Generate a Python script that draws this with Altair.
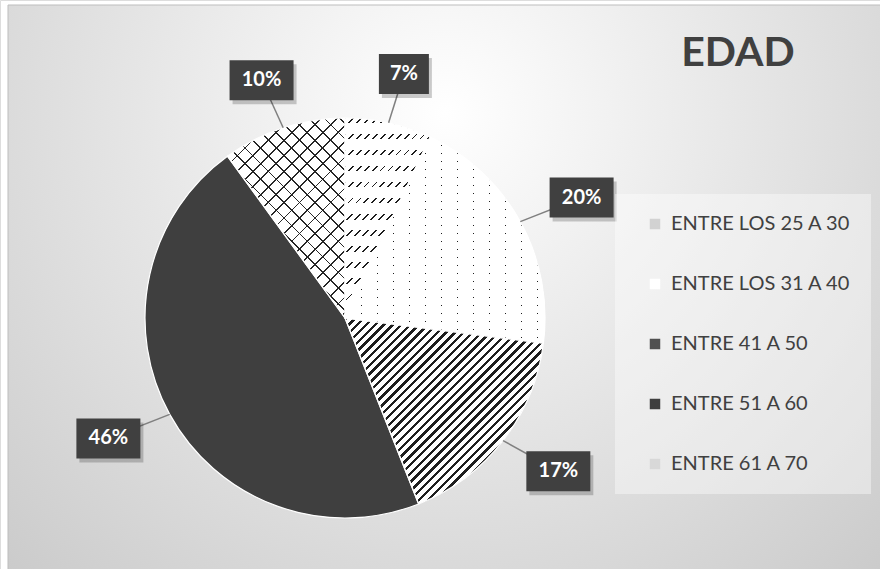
import math
import altair as alt
import pandas as pd

# ---- data ----
categories = ["ENTRE LOS 25 A 30", "ENTRE LOS 31 A 40", "ENTRE 41 A 50", "ENTRE 51 A 60", "ENTRE 61 A 70"]
values = [7, 20, 17, 46, 10]
labels = ["7%", "20%", "17%", "46%", "10%"]
swatch = ["#d2d2d2", "#ffffff", "#505050", "#3f3f3f", "#d8d8d8"]

df = pd.DataFrame({"cat": categories, "val": values, "label": labels, "idx": list(range(len(values)))})

W, H = 880, 569
CX, CY, R = 345, 318, 200
LRX, LRY = 270, 250
FONT = "Lato"
TOTAL = sum(values)
theta_scale = alt.Scale(domain=[0, TOTAL])


# ---- pattern helpers (style only) ----
def slice_bbox(i):
    a0 = sum(values[:i]) / TOTAL * 360
    a1 = sum(values[:i + 1]) / TOTAL * 360
    angs = [a0, a1] + [a for a in (0, 90, 180, 270, 360) if a0 < a < a1]
    xs, ys = [CX], [CY]
    for a in angs:
        r = math.radians(a)
        xs.append(CX + R * math.sin(r))
        ys.append(CY - R * math.cos(r))
    return max(xs) - min(xs), max(ys) - min(ys)


def stripes(kind, w, h, period, width, on, off):
    if kind == "h":
        p = dict(x1=0, y1=0, x2=0, y2=1)
        L = h
    elif kind == "v":
        p = dict(x1=0, y1=0, x2=1, y2=0)
        L = w
    else:
        k = (w + h) / (w * w + h * h)
        L = (w + h) / math.sqrt(2)
        if kind == "fwd":  # "/" lines
            p = dict(x1=0, y1=0, x2=k * w, y2=k * h)
        else:  # "\" lines
            p = dict(x1=0, y1=1, x2=k * w, y2=1 - k * h)
    pt, dt = period / L, width / L
    stops = []
    t = 0.0
    while t < 1:
        a = min(t + dt, 1)
        b = min(t + pt, 1)
        stops += [{"offset": t, "color": on}, {"offset": a, "color": on},
                  {"offset": a, "color": off}, {"offset": b, "color": off}]
        t += pt
    return {"gradient": "linear", "stops": stops, **p}


CLEAR = "rgba(255,255,255,0)"
patterns = {
    0: [("fwd", 5.6, 1.3, "#1e1e1e", "#ffffff"), ("h", 16, 5.5, CLEAR, "#ffffff")],
    1: [("v", 16, 1.2, "#1e1e1e", "#ffffff"), ("h", 8, 1.2, CLEAR, "#ffffff")],
    2: [("fwd", 6.2, 2.4, "#1e1e1e", "#ffffff")],
    4: [("back", 11, 1.3, "#262626", "#ffffff"), ("fwd", 11, 1.3, "#262626", CLEAR)],
}

bg = alt.Chart(alt.Data(values=[{}])).mark_rect(
    fill={"gradient": "radial",
          "stops": [{"offset": 0, "color": "#ffffff"}, {"offset": 1, "color": "#c2c2c2"}],
          "x1": 0.5, "y1": 0.3, "r1": 0, "x2": 0.5, "y2": 0.3, "r2": 0.85},
    stroke="#bdbdbd", strokeWidth=1,
).encode(x=alt.value(8), x2=alt.value(W + 2), y=alt.value(5), y2=alt.value(H + 2))

color = alt.Color(
    "cat:N",
    scale=alt.Scale(domain=categories, range=swatch),
    sort=categories,
    legend=alt.Legend(
        title=None, orient="none", legendX=615, legendY=194, padding=20, symbolOffset=10,
        symbolType="square", symbolSize=110, symbolStrokeWidth=0,
        symbolOpacity=1, labelFont=FONT, labelFontSize=20, labelColor="#404040",
        labelOffset=6, rowPadding=40, fillColor="rgba(255,255,255,0.4)", labelLimit=400,
    ),
)

base = alt.Chart(df)

stacked = base.transform_window(
    cum="sum(val)", sort=[alt.SortField("idx")], frame=[None, 0]
).transform_calculate(t0="datum.cum - datum.val")

pie = base.mark_arc(outerRadius=R).encode(
    theta=alt.Theta("val:Q", stack=True, scale=theta_scale),
    color=color,
    order=alt.Order("idx:Q"),
    x=alt.value(CX),
    y=alt.value(CY),
)

overlays = []
for i, pats in patterns.items():
    w, h = slice_bbox(i)
    for (kind, period, width, on, off) in pats:
        overlays.append(
            stacked.transform_filter(alt.datum.idx == i)
            .mark_arc(outerRadius=R, fill=stripes(kind, w, h, period, width, on, off))
            .encode(
                theta=alt.Theta("t0:Q", scale=theta_scale),
                theta2="cum:Q",
                x=alt.value(CX),
                y=alt.value(CY),
            )
        )

edges = base.mark_arc(outerRadius=R, fillOpacity=0, stroke="white", strokeWidth=1.2).encode(
    theta=alt.Theta("val:Q", stack=True, scale=theta_scale),
    order=alt.Order("idx:Q"),
    x=alt.value(CX),
    y=alt.value(CY),
)

pos = (
    stacked.transform_calculate(mid=f"(datum.cum - datum.val/2) / {TOTAL} * 2 * PI")
    .transform_calculate(lx=f"{CX} + {LRX} * sin(datum.mid)")
    .transform_calculate(ly=f"{CY} - {LRY} * cos(datum.mid)")
    .transform_calculate(ex=f"{CX} + {R} * sin(datum.mid)")
    .transform_calculate(ey=f"{CY} - {R} * cos(datum.mid)")
    .transform_calculate(bw="14 * length(datum.label) + 22")
    .transform_calculate(bx1="datum.lx - datum.bw / 2")
    .transform_calculate(bx2="datum.lx + datum.bw / 2")
    .transform_calculate(by1="datum.ly - 20")
    .transform_calculate(by2="datum.ly + 20")
    .transform_calculate(sx1="datum.bx1 + 3")
    .transform_calculate(sx2="datum.bx2 + 3")
    .transform_calculate(sy1="datum.by1 + 4")
    .transform_calculate(sy2="datum.by2 + 4")
)

leader = pos.mark_rule(color="#808080", strokeWidth=1.5).encode(
    x=alt.X("ex:Q", scale=None), y=alt.Y("ey:Q", scale=None),
    x2="lx:Q", y2="ly:Q",
)

shadow = pos.mark_rect(fill="#000000", opacity=0.2).encode(
    x=alt.X("sx1:Q", scale=None), x2="sx2:Q",
    y=alt.Y("sy1:Q", scale=None), y2="sy2:Q",
)

box = pos.mark_rect(fill="#404040").encode(
    x=alt.X("bx1:Q", scale=None), x2="bx2:Q",
    y=alt.Y("by1:Q", scale=None), y2="by2:Q",
)

txt = pos.mark_text(font=FONT, fontSize=20, fontWeight="bold", color="white",
                    align="center", baseline="middle").encode(
    x=alt.X("lx:Q", scale=None), y=alt.Y("ly:Q", scale=None), text="label:N",
)

title = alt.Chart(alt.Data(values=[{"t": "EDAD"}])).mark_text(
    font=FONT, fontSize=41, fontWeight="bold", color="#404040",
    align="center", baseline="alphabetic",
).encode(x=alt.value(738), y=alt.value(66), text="t:N")

chart = alt.layer(bg, pie, *overlays, edges, leader, shadow, box, txt, title).properties(
    width=W, height=H, padding=0, autosize="none",
).configure_view(stroke=None).configure(background="white")

chart.save("out.html", embed_options={"renderer": "svg", "actions": False})
